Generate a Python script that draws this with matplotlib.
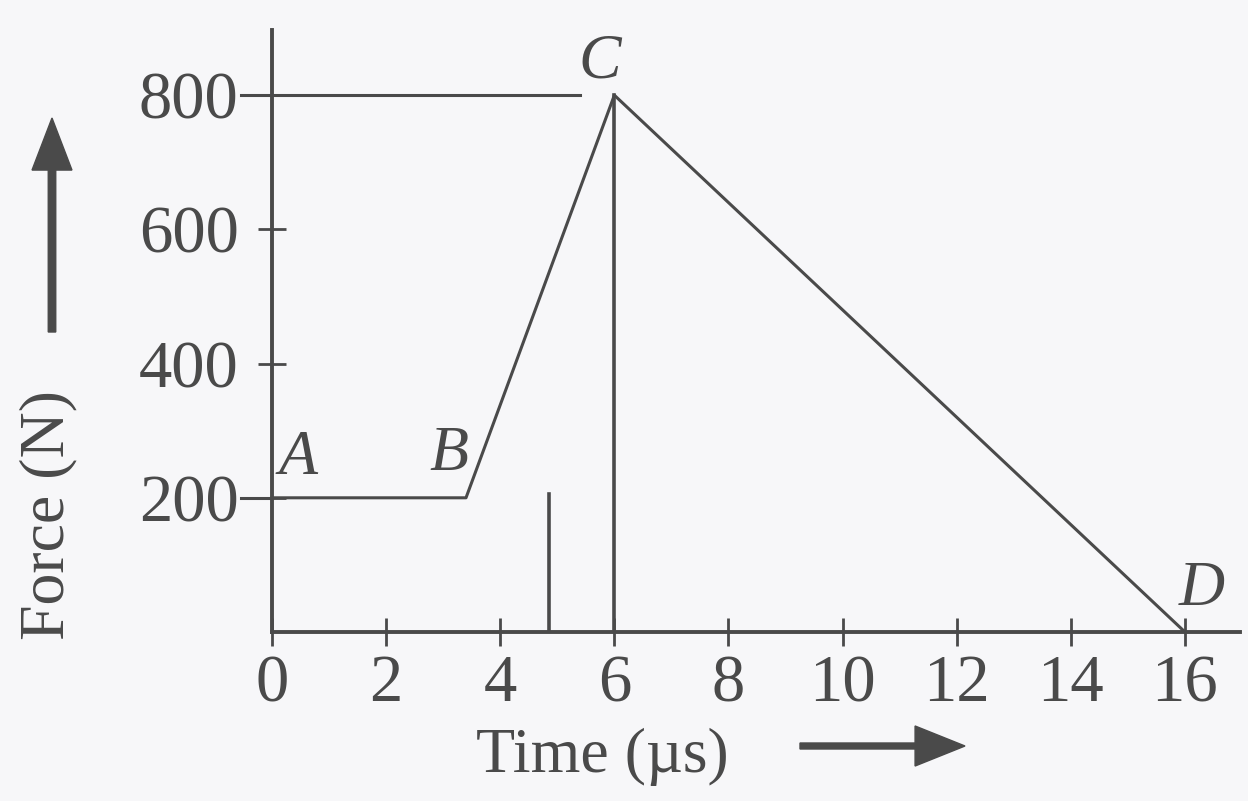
import matplotlib.pyplot as plt
from matplotlib.patches import FancyArrow

# force-time graph values
t_pts = [0, 3.4, 6, 16]
f_pts = [200, 200, 800, 0]
pt_names = ['A', 'B', 'C', 'D']
x_ticks = [0, 2, 4, 6, 8, 10, 12, 14, 16]
y_ticks = [200, 400, 600, 800]
t_mark = 4.85     # short vertical mark
f_mark = 205

ink = '#4a4a4a'
serif = ['Liberation Serif', 'DejaVu Serif']

fig = plt.figure(figsize=(12.48, 8.01), dpi=100, facecolor='#f7f7f9')
ax = fig.add_axes([272 / 1248, 169 / 801, 968 / 1248, 602 / 801])
ax.set_facecolor('#f7f7f9')
ax.set_xlim(0, 968 / 57.06)
ax.set_ylim(0, 602 / 0.671)

for s in ['top', 'right']:
    ax.spines[s].set_visible(False)
for s in ['left', 'bottom']:
    ax.spines[s].set_color(ink)
    ax.spines[s].set_linewidth(2.8)

ax.set_xticks(x_ticks)
ax.set_xticklabels([str(v) for v in x_ticks])
ax.set_yticks(y_ticks)
ax.set_yticklabels([str(v) for v in y_ticks])
ax.tick_params(axis='both', direction='inout', length=20, width=2, color=ink,
               labelsize=48, labelcolor=ink)
ax.tick_params(axis='x', pad=6)
ax.tick_params(axis='y', pad=14)
for lab in ax.get_xticklabels() + ax.get_yticklabels():
    lab.set_family(serif)

# main curve
ax.plot(t_pts, f_pts, color=ink, lw=2.2, clip_on=False)
# guide lines
ax.plot([-0.55, t_pts[2] - 0.6], [f_pts[2], f_pts[2]], color=ink, lw=2.2, clip_on=False)
ax.plot([-0.55, 0], [f_pts[0], f_pts[0]], color=ink, lw=2.2, clip_on=False)
ax.plot([t_pts[2], t_pts[2]], [0, f_pts[2]], color=ink, lw=2.6)
ax.plot([t_mark, t_mark], [0, f_mark], color=ink, lw=2.6)

# point labels
offs = [(0.45, 15), (-0.3, 20), (-0.25, 5), (0.3, 20)]
for name, x, y, (dx, dy) in zip(pt_names, t_pts, f_pts, offs):
    ax.text(x + dx, y + dy, name, fontsize=46, style='italic', family=serif,
            color=ink, ha='center', va='bottom')

# axis titles
fig.text(48 / 1248, 1 - 515 / 801, 'Force (N)', rotation=90, fontsize=46,
         family=serif, color=ink, ha='center', va='center')
fig.text(602 / 1248, 1 - 757 / 801, 'Time (µs)', fontsize=46,
         family=serif, color=ink, ha='center', va='center')

# direction arrows
fig.patches.append(FancyArrow(
    52 / 1248, 1 - 332 / 801, 0, (332 - 118) / 801, width=0.006,
    head_width=0.032, head_length=0.065, length_includes_head=True,
    color=ink, transform=fig.transFigure, figure=fig))
fig.patches.append(FancyArrow(
    800 / 1248, 1 - 746 / 801, (965 - 800) / 1248, 0, width=0.0075,
    head_width=0.05, head_length=0.04, length_includes_head=True,
    color=ink, transform=fig.transFigure, figure=fig))

fig.savefig('out.png', dpi=100, facecolor=fig.get_facecolor())
